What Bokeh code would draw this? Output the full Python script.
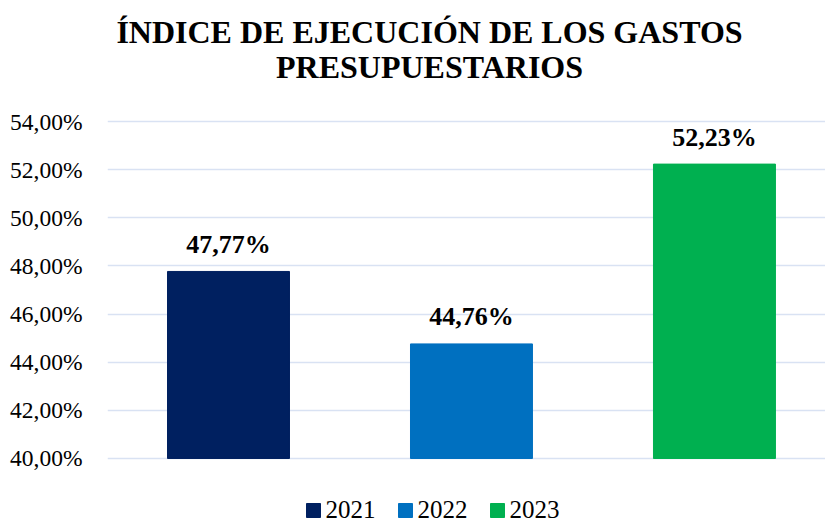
from bokeh.plotting import figure
from bokeh.models import ColumnDataSource, Range1d, FixedTicker, CustomJSTickFormatter
from bokeh.core.properties import value
from bokeh.embed import file_html
from bokeh.resources import INLINE

years = ["2021", "2022", "2023"]
values = [47.77, 44.76, 52.23]
colors = ["#002060", "#0070C0", "#00B050"]
y_ticks = [40, 42, 44, 46, 48, 50, 52, 54]
title_lines = ["ÍNDICE DE EJECUCIÓN DE LOS GASTOS", "PRESUPUESTARIOS"]

FONT = "Liberation Serif"

# ---- layout (pixels) ----
W, H = 825, 518
LEFT = 107                      # frame left edge (axis labels to the left)
X_START, X_END = -0.498, 2.457  # bars centred at 228 / 471 / 714 px
Y_START, Y_END = 37.507, 59.027 # 40 -> 458 px, 54 -> 121 px
FRAME_W = W - LEFT

def px_to_x(px):
    return X_START + (px - LEFT) * (X_END - X_START) / FRAME_W

def py_to_y(py):
    return Y_END - py * (Y_END - Y_START) / H

labels = [f"{v:.2f}".replace(".", ",") + "%" for v in values]
src = ColumnDataSource(dict(x=list(range(len(years))), top=values, color=colors,
                            year=years, label=labels))

p = figure(width=W, height=H, output_backend="svg", toolbar_location=None,
           x_range=Range1d(X_START, X_END), y_range=Range1d(Y_START, Y_END),
           x_axis_location=None, min_border=0, min_border_left=LEFT)
p.outline_line_color = None
p.xgrid.grid_line_color = None
p.ygrid.grid_line_color = "#D9E2F3"
p.ygrid.grid_line_width = 1.5

p.vbar(x="x", top="top", bottom=y_ticks[0], width=0.502, color="color", source=src)

p.text(x="x", y="top", text="label", source=src, text_align="center",
       text_baseline="alphabetic", y_offset=-27, text_font=value(FONT),
       text_font_style="bold", text_font_size="26px", text_color="#000000")

ax = p.yaxis[0]
ax.ticker = FixedTicker(ticks=y_ticks)
ax.formatter = CustomJSTickFormatter(code="return tick.toFixed(2).replace('.', ',') + '%';")
ax.axis_line_color = None
ax.major_tick_line_color = None
ax.minor_tick_line_color = None
ax.major_tick_out = 0
ax.major_label_standoff = 25
ax.major_label_text_font = FONT
ax.major_label_text_font_size = "23.5px"
ax.major_label_text_color = "#000000"

# ---- title (two centred lines) ----
title_src = ColumnDataSource(dict(
    x=[px_to_x(429)] * len(title_lines),
    y=[py_to_y(31 + 35 * i) for i in range(len(title_lines))],
    text=title_lines))
p.text(x="x", y="y", text="text", source=title_src, text_align="center",
       text_baseline="alphabetic", text_font=value(FONT), text_font_style="bold",
       text_font_size="32px", text_color="#000000")

# ---- legend (horizontal, below the bars) ----
leg_sq_px = [313 + 92 * i for i in range(len(years))]
leg_src = ColumnDataSource(dict(
    sx=[px_to_x(v) for v in leg_sq_px],
    tx=[px_to_x(v + 12) for v in leg_sq_px],
    sy=[py_to_y(510)] * len(years),
    ty=[py_to_y(509)] * len(years),
    color=colors, year=years))
p.scatter(x="sx", y="sy", marker="square", size=14, fill_color="color",
          line_color="color", source=leg_src)
p.text(x="tx", y="ty", text="year", source=leg_src, text_align="left",
       text_baseline="alphabetic", text_font=value(FONT), text_font_size="25px",
       text_color="#000000")

open("out.html", "w").write(file_html(p, INLINE))
